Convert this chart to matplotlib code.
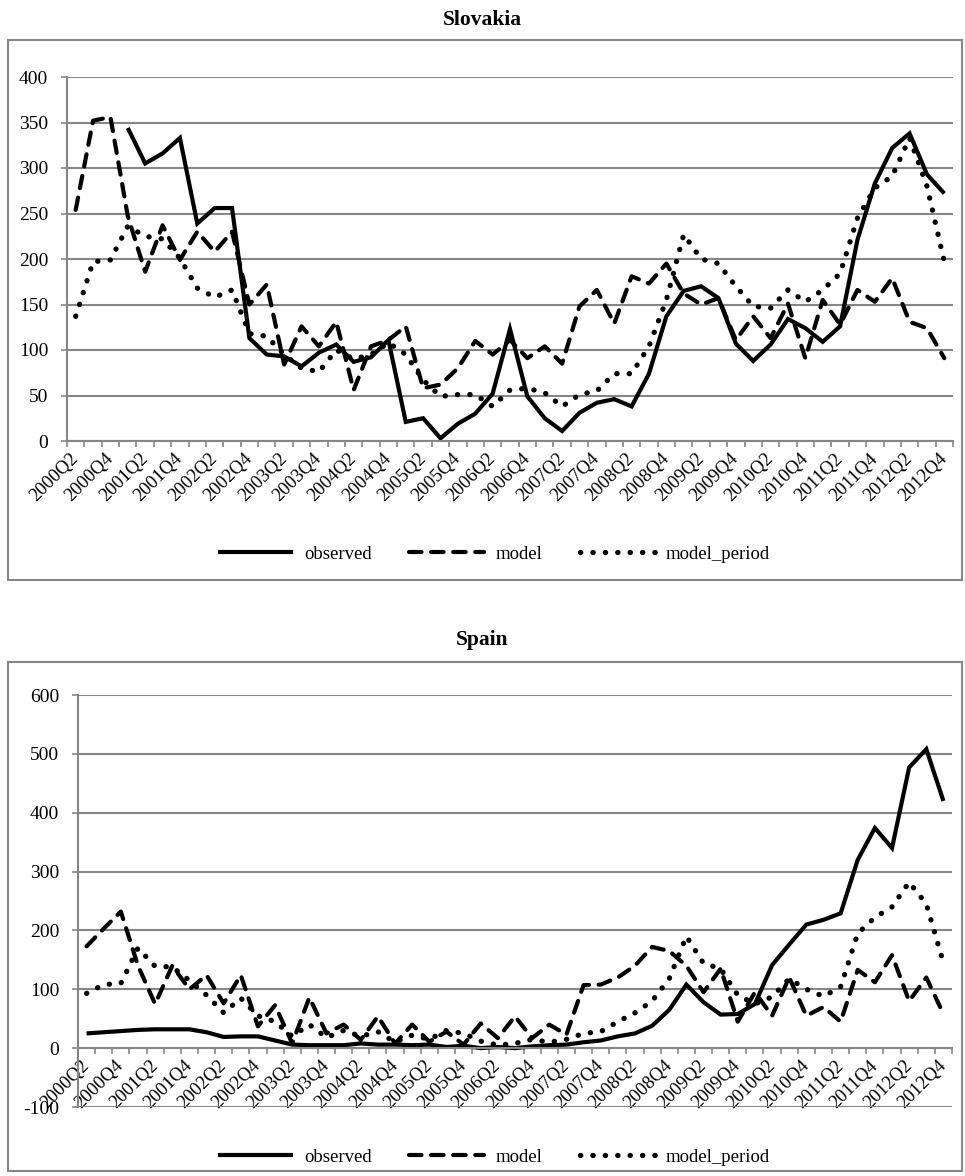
import matplotlib
matplotlib.use("Agg")
import matplotlib.pyplot as plt
import numpy as np
from matplotlib.patches import Rectangle

plt.rcParams["font.family"] = ["Liberation Serif", "DejaVu Serif"]
plt.rcParams["axes.unicode_minus"] = False

# Quarterly categories 2000Q2 .. 2012Q4
quarters = [f"{y}Q{q}" for y in range(2000, 2013) for q in range(1, 5)][1:]

# Slovakia
sk_observed = [np.nan, np.nan, np.nan, 344, 305, 316, 333, 239, 256, 256,
               113, 95, 93, 82, 97, 106, 87, 92, 111, 21,
               25, 3, 19, 30, 52, 123, 49, 25, 11, 31,
               42, 46, 38, 74, 137, 165, 170, 157, 107, 88,
               106, 134, 124, 109, 126, 221, 283, 322, 338, 293,
               272]
sk_model = [254, 352, 356, 247, 186, 237, 199, 230, 208, 230,
            150, 172, 84, 126, 104, 131, 56, 104, 111, 126,
            58, 62, 80, 110, 95, 111, 91, 104, 85, 148,
            166, 129, 181, 173, 195, 162, 150, 157, 111, 137,
            113, 151, 91, 155, 128, 166, 153, 179, 131, 124,
            91]
sk_model_period = [137, 197, 199, 236, 225, 222, 201, 168, 158, 166,
                   118, 115, 95, 80, 76, 100, 90, 95, 108, 95,
                   67, 49, 51, 51, 38, 56, 58, 53, 38, 51,
                   55, 74, 74, 104, 155, 227, 200, 195, 170, 148,
                   146, 166, 153, 166, 184, 245, 278, 291, 333, 280,
                   197]

# Spain
es_observed = [25, 27, 29, 31, 32, 32, 32, 27, 19, 20,
               20, 13, 6, 5, 5, 5, 8, 6, 6, 5,
               6, 2, 4, 0, 2, 0, 3, 5, 6, 10,
               13, 20, 25, 38, 65, 108, 78, 57, 58, 75,
               141, 176, 210, 218, 229, 320, 374, 340, 477, 508,
               420]
es_model = [173, 203, 232, 140, 75, 140, 100, 124, 76, 124,
            37, 73, 8, 86, 25, 40, 14, 54, 8, 40,
            11, 28, 6, 42, 17, 54, 17, 40, 23, 107,
            108, 120, 140, 172, 165, 140, 95, 135, 45, 95,
            55, 120, 55, 70, 45, 133, 112, 158, 80, 120,
            58]
es_model_period = [93, 108, 110, 170, 139, 138, 115, 90, 60, 85,
                   55, 45, 20, 40, 18, 30, 20, 28, 10, 22,
                   15, 30, 25, 12, 5, 8, 15, 10, 15, 25,
                   28, 45, 60, 80, 118, 190, 144, 135, 90, 75,
                   87, 118, 100, 88, 104, 195, 222, 240, 282, 245,
                   145]

GRID = "#868686"
W, H = 965, 1176


def px_box(x0, y0, x1, y1):
    """Pixel rectangle (top-left origin) -> figure fraction [l, b, w, h]."""
    return [x0 / W, 1 - y1 / H, (x1 - x0) / W, (y1 - y0) / H]


def draw_panel(ax, observed, model, model_period, ylim, ystep, cross_zero=False):
    # the category axis must be moved before ticks are configured,
    # set_position resets the tick label properties
    if cross_zero:
        ax.spines["bottom"].set_position(("data", 0))

    x = np.arange(len(quarters))
    ax.plot(x, observed, color="black", lw=3.0, label="observed",
            solid_capstyle="butt", solid_joinstyle="miter")
    ax.plot(x, model, color="black", lw=3.0, label="model",
            dashes=(3.0, 2.3), dash_capstyle="round", dash_joinstyle="round")
    ax.plot(x, model_period, color="black", lw=3.8, label="model_period",
            dashes=(0.05, 2.3), dash_capstyle="round")

    ax.set_xlim(-0.5, len(quarters) - 0.5)
    ax.set_ylim(*ylim)
    ax.set_yticks(np.arange(ylim[0], ylim[1] + 1, ystep))
    ax.yaxis.grid(True, color=GRID, lw=1.5)
    ax.set_axisbelow(True)

    # labels on every second quarter, tick marks between categories
    ax.set_xticks(x[::2], quarters[::2])
    ax.set_xticks(np.arange(-0.5, len(quarters)), minor=True)
    for lab in ax.get_xticklabels():
        lab.set_rotation(45)
        lab.set_ha("right")
        lab.set_va("center")
        lab.set_rotation_mode("anchor")
    ax.tick_params(axis="x", which="major", length=0, pad=11, labelsize=13.5)
    ax.tick_params(axis="x", which="minor", length=4, width=1.2,
                   color=GRID, direction="out")
    ax.tick_params(axis="y", length=4.5, width=1.2, color=GRID, pad=9,
                   labelsize=14)

    for side in ("top", "right"):
        ax.spines[side].set_visible(False)
    for side in ("left", "bottom"):
        ax.spines[side].set_color(GRID)
        ax.spines[side].set_linewidth(1.5)


def add_legend(ax, y_px):
    ax.legend(loc="center", bbox_to_anchor=(494 / W, 1 - y_px / H),
              bbox_transform=fig.transFigure, ncol=3, frameon=False,
              fontsize=13.5, handlelength=4.0, columnspacing=2.0,
              handletextpad=0.6)


fig = plt.figure(figsize=(W / 100, H / 100), dpi=100)

# chart frames
for y0, y1 in ((40, 580), (662, 1171)):
    l, b, w, h = px_box(8, y0, 962, y1)
    fig.patches.append(Rectangle((l, b), w, h, transform=fig.transFigure,
                                 fill=False, edgecolor=GRID, lw=1.5))

ax1 = fig.add_axes(px_box(67, 77, 953, 441))
draw_panel(ax1, sk_observed, sk_model, sk_model_period, (0, 400), 50)
fig.text(0.5, 1 - 20 / H, "Slovakia", ha="center", va="center",
         fontsize=15.5, fontweight="bold")
add_legend(ax1, 554)

ax2 = fig.add_axes(px_box(78, 695, 952, 1107))
draw_panel(ax2, es_observed, es_model, es_model_period, (-100, 600), 100,
           cross_zero=True)
fig.text(0.5, 1 - 640 / H, "Spain", ha="center", va="center",
         fontsize=15.5, fontweight="bold")
add_legend(ax2, 1157)

fig.savefig("out.png", dpi=100, facecolor="white")
